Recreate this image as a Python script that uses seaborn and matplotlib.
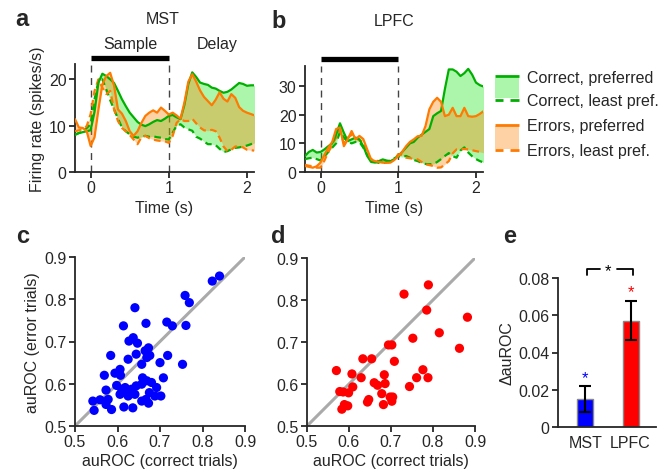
import numpy as np
import pandas as pd
import matplotlib
matplotlib.use("Agg")
import matplotlib.pyplot as plt
import seaborn as sns

# ---- data ----
t = np.round(np.arange(-0.2, 2.1001, 0.05), 2)

mst_cor_pref = [8.1, 8.4, 8.6, 8.8, 9.0, 13.0, 19.3, 21.2, 20.7, 20.0,
                19.2, 17.5, 15.7, 14.2, 12.8, 11.8, 10.8, 10.2, 9.9, 10.3,
                10.8, 11.2, 11.0, 11.5, 12.1, 12.3, 11.8, 11.4, 14.5, 19.0,
                21.5, 20.5, 19.3, 19.0, 18.8, 18.2, 18.0, 17.5, 17.1, 17.3,
                17.8, 18.5, 19.2, 19.0, 18.6, 18.7, 18.7]
mst_cor_least = [8.0, 8.4, 8.8, 9.5, 10.3, 15.7, 19.6, 20.0, 17.8, 15.5,
                 13.5, 11.5, 9.6, 8.8, 8.1, 7.6, 7.4, 7.6, 7.8, 7.6,
                 7.7, 7.5, 7.4, 7.1, 7.0, 8.5, 10.0, 10.3, 9.6, 9.2,
                 8.9, 7.6, 7.2, 6.6, 6.0, 6.0, 5.8, 5.0, 4.3, 4.5,
                 4.9, 5.2, 5.3, 5.5, 5.7, 6.0, 6.3]
mst_err_pref = [11.4, 9.6, 9.5, 8.8, 5.6, 7.5, 13.5, 18.9, 20.7, 21.4,
                18.6, 13.5, 12.6, 11.0, 8.8, 7.8, 8.8, 10.6, 12.1, 12.8,
                13.3, 12.8, 13.9, 13.2, 12.4, 12.8, 12.2, 11.5, 15.0, 19.5,
                21.1, 19.5, 17.6, 16.2, 15.3, 14.4, 15.6, 17.2, 15.8, 15.2,
                16.8, 16.0, 14.0, 13.2, 12.8, 12.5, 12.2]
mst_err_least = [8.8, 9.0, 9.3, 9.9, 12.5, 17.5, 20.0, 18.2, 16.8, 17.5,
                 13.5, 11.0, 9.5, 8.8, 8.0, 7.0, 6.0, 7.5, 7.8, 7.3,
                 7.0, 6.8, 6.7, 6.6, 6.3, 7.8, 10.6, 11.4, 11.0, 11.0,
                 11.5, 10.5, 9.6, 9.0, 8.9, 9.1, 8.8, 7.4, 5.5, 4.5,
                 4.8, 5.5, 5.5, 5.3, 4.8, 4.7, 4.6]

lpfc_cor_pref = [5.6, 7.0, 7.7, 6.8, 7.0, 7.9, 9.0, 10.0, 13.0, 17.0,
                 13.7, 10.8, 11.4, 12.0, 11.4, 9.0, 5.6, 3.5, 3.3, 3.8,
                 4.4, 4.0, 3.8, 4.5, 5.6, 7.0, 8.5, 10.0, 10.5, 12.0,
                 13.0, 14.0, 15.0, 19.5, 20.5, 21.3, 29.0, 35.8, 35.8, 35.0,
                 33.5, 34.5, 36.0, 34.0, 31.2, 30.3, 29.8]
lpfc_cor_least = [4.5, 4.8, 5.0, 4.5, 4.0, 5.5, 7.0, 8.5, 10.0, 14.0,
                  12.0, 10.5, 10.0, 10.5, 10.5, 8.5, 6.0, 4.5, 3.5, 3.2,
                  3.0, 3.5, 4.0, 4.8, 5.5, 5.2, 5.6, 5.0, 4.2, 3.8,
                  3.2, 2.8, 2.7, 2.8, 3.5, 4.5, 5.6, 6.6, 5.5, 5.0,
                  7.5, 8.6, 6.8, 5.5, 4.5, 3.8, 3.3]
lpfc_err_pref = [2.1, 1.8, 1.5, 2.0, 3.3, 6.0, 8.5, 10.5, 15.0, 15.5,
                 9.0, 11.4, 14.3, 11.4, 12.6, 11.5, 7.9, 4.4, 3.8, 3.5,
                 3.3, 3.2, 3.3, 4.2, 5.6, 7.0, 9.0, 10.5, 11.4, 12.5,
                 12.6, 16.0, 21.9, 24.5, 25.9, 24.5, 19.5, 20.0, 22.4, 19.5,
                 19.5, 22.4, 19.5, 19.3, 19.5, 20.3, 21.3]
lpfc_err_least = [2.5, 2.2, 2.0, 1.5, 1.5, 4.0, 7.0, 9.5, 12.0, 14.5,
                  10.0, 12.0, 13.0, 12.0, 11.0, 10.5, 6.0, 4.5, 4.0, 3.8,
                  3.5, 3.3, 3.5, 4.5, 6.2, 6.0, 5.0, 4.8, 4.6, 4.4,
                  3.5, 2.7, 2.4, 2.1, 1.5, 1.6, 2.7, 3.8, 6.5, 7.9,
                  8.0, 8.0, 7.9, 7.6, 7.3, 7.0, 6.7]

mst_x = [0.542, 0.545, 0.559, 0.573, 0.578, 0.586, 0.573, 0.569, 0.584, 0.594,
         0.598, 0.606, 0.607, 0.610, 0.614, 0.606, 0.618, 0.615, 0.622, 0.625,
         0.625, 0.627, 0.636, 0.637, 0.641, 0.641, 0.644, 0.647, 0.644, 0.657,
         0.657, 0.657, 0.659, 0.665, 0.667, 0.669, 0.673, 0.675, 0.673, 0.676,
         0.667, 0.680, 0.692, 0.700, 0.688, 0.702, 0.708, 0.718, 0.716, 0.729,
         0.753, 0.761, 0.759, 0.769, 0.823, 0.840, 0.669, 0.633]
mst_y = [0.559, 0.537, 0.562, 0.551, 0.563, 0.539, 0.585, 0.620, 0.667, 0.625,
         0.596, 0.634, 0.620, 0.587, 0.737, 0.575, 0.591, 0.545, 0.579, 0.571,
         0.658, 0.701, 0.543, 0.709, 0.780, 0.575, 0.670, 0.696, 0.595, 0.599,
         0.646, 0.559, 0.614, 0.678, 0.743, 0.662, 0.685, 0.579, 0.554, 0.667,
         0.563, 0.603, 0.591, 0.650, 0.571, 0.571, 0.614, 0.667, 0.746, 0.737,
         0.646, 0.738, 0.809, 0.792, 0.843, 0.855, 0.607, 0.587]

lpfc_x = [0.570, 0.578, 0.586, 0.583, 0.589, 0.597, 0.599, 0.607, 0.609, 0.629,
          0.633, 0.644, 0.647, 0.654, 0.660, 0.668, 0.678, 0.682, 0.684, 0.686,
          0.694, 0.702, 0.698, 0.702, 0.704, 0.708, 0.731, 0.744, 0.752, 0.761,
          0.776, 0.785, 0.788, 0.789, 0.815, 0.863, 0.882]
lpfc_y = [0.632, 0.582, 0.581, 0.540, 0.551, 0.548, 0.579, 0.624, 0.593, 0.615,
          0.660, 0.557, 0.563, 0.660, 0.603, 0.597, 0.577, 0.551, 0.622, 0.601,
          0.693, 0.693, 0.569, 0.559, 0.569, 0.654, 0.814, 0.594, 0.709, 0.615,
          0.634, 0.776, 0.615, 0.836, 0.722, 0.685, 0.759]

areas = ["MST", "LPFC"]
delta_auroc = [0.015, 0.057]
delta_sem = [0.007, 0.0105]

# ---- style ----
sns.set_style("ticks")
plt.rcParams['font.family'] = ['Liberation Sans', 'DejaVu Sans']
plt.rcParams['font.size'] = 11.5
plt.rcParams['axes.linewidth'] = 1.3
plt.rcParams['xtick.major.width'] = 1.3
plt.rcParams['ytick.major.width'] = 1.3
plt.rcParams['xtick.major.size'] = 4
plt.rcParams['ytick.major.size'] = 4
plt.rcParams['xtick.major.pad'] = 2
plt.rcParams['ytick.major.pad'] = 2
plt.rcParams['axes.labelpad'] = 3

GREEN = '#00b000'
ORANGE = '#ff7a00'
GFILL = '#00e600'
OFILL = '#ff7f00'

fig = plt.figure(figsize=(6.71, 4.77), dpi=100)
W, H = 671, 477


def px_axes(l, t_, r, b):
    return fig.add_axes([l / W, 1 - b / H, (r - l) / W, (b - t_) / H])


ax_a = px_axes(75, 65, 254, 173)
ax_b = px_axes(305, 67, 483, 173)
ax_c = px_axes(75, 258, 245, 427)
ax_d = px_axes(307, 259, 475, 427)
ax_e = px_axes(558, 279, 656, 428)


def traces(ax, cp, cl, ep, el, ytop, bar_y):
    ax.fill_between(t, cp, cl, color=GFILL, alpha=0.33, lw=0, zorder=1)
    ax.fill_between(t, ep, el, color=OFILL, alpha=0.35, lw=0, zorder=1)
    for v in (0, 1):
        ax.axvline(v, color='#444444', lw=1.0, ls=(0, (5, 4)), zorder=0)
    sns.lineplot(x=t, y=cl, ax=ax, color=GREEN, lw=1.6, ls=(0, (3, 2)), zorder=3)
    sns.lineplot(x=t, y=el, ax=ax, color=ORANGE, lw=1.6, ls=(0, (3, 2)), zorder=3)
    sns.lineplot(x=t, y=cp, ax=ax, color=GREEN, lw=1.6, zorder=4)
    sns.lineplot(x=t, y=ep, ax=ax, color=ORANGE, lw=1.6, zorder=4)
    ax.plot([0, 1], [bar_y, bar_y], color='k', lw=3.8, clip_on=False,
            solid_capstyle='butt')
    ax.set_xlim(-0.2, 2.09)
    ax.set_ylim(0, ytop)
    ax.set_xticks([0, 1, 2])
    ax.set_xlabel("Time (s)")
    sns.despine(ax=ax)


traces(ax_a, mst_cor_pref, mst_cor_least, mst_err_pref, mst_err_least, 23.3, 24.6)
ax_a.set_yticks([0, 10, 20])
ax_a.set_ylabel("Firing rate (spikes/s)")

traces(ax_b, lpfc_cor_pref, lpfc_cor_least, lpfc_err_pref, lpfc_err_least, 37, 39.3)
ax_b.set_yticks([0, 10, 20, 30])

# scatter panels
for ax, xs, ys, col in [(ax_c, mst_x, mst_y, '#0000ff'), (ax_d, lpfc_x, lpfc_y, '#ff0000')]:
    ax.plot([0.5, 0.9], [0.5, 0.9], color='#aaaaaa', lw=2.2, zorder=0)
    sns.scatterplot(x=xs, y=ys, ax=ax, color=col, s=44, edgecolor='none', zorder=3)
    ax.set_xlim(0.5, 0.9)
    ax.set_ylim(0.5, 0.9)
    ticks = [0.5, 0.6, 0.7, 0.8, 0.9]
    ax.set_xticks(ticks)
    ax.set_yticks(ticks)
    ax.set_xticklabels(["0.5", "0.6", "0.7", "0.8", "0.9"])
    ax.set_yticklabels(["0.5", "0.6", "0.7", "0.8", "0.9"])
    ax.set_xlabel("auROC (correct trials)")
    sns.despine(ax=ax)
ax_c.set_ylabel("auROC (error trials)")

# bar panel
df_e = pd.DataFrame({"area": areas, "delta": delta_auroc})
sns.barplot(data=df_e, x="area", y="delta", hue="area", palette=['#0000ff', '#ff0000'],
            legend=False, width=0.35, edgecolor='#888888', linewidth=1.0,
            saturation=1, errorbar=None, ax=ax_e)
ax_e.errorbar([0, 1], delta_auroc, yerr=delta_sem, fmt='none', ecolor='k',
              elinewidth=1.5, capsize=4, capthick=1.5, zorder=5)
ax_e.set_xlim(-0.6, 1.56)
ax_e.set_ylim(0, 0.08)
ax_e.set_yticks([0, 0.02, 0.04, 0.06, 0.08])
ax_e.set_yticklabels(["0", "0.02", "0.04", "0.06", "0.08"])
ax_e.set_xlabel("")
ax_e.set_ylabel("ΔauROC")
ax_e.tick_params(axis='x', length=0, pad=6)
sns.despine(ax=ax_e)
ax_e.text(0, 0.0265, "*", color='#0000ff', ha='center', va='center', fontsize=12)
ax_e.text(1, 0.0725, "*", color='#ff0000', ha='center', va='center', fontsize=12)
ax_e.text(0.51, 0.0838, "*", color='k', ha='center', va='center', fontsize=12)
ax_e.plot([0.03, 0.03, 0.33], [0.0814, 0.0846, 0.0846], color='k', lw=1.3, clip_on=False)
ax_e.plot([0.70, 1.05, 1.05], [0.0846, 0.0846, 0.0814], color='k', lw=1.3, clip_on=False)

# overlay for letters, titles and the legend (pixel coordinates)
ov = fig.add_axes([0, 0, 1, 1], zorder=-1)
ov.set_xlim(0, W)
ov.set_ylim(H, 0)
ov.axis('off')

for letter, x, y in [("a", 22, 20), ("b", 279, 21), ("c", 23, 237), ("d", 278, 237), ("e", 510, 237)]:
    ov.text(x, y, letter, fontsize=17, fontweight='bold', ha='center', va='center')

ov.text(163, 20, "MST", ha='center', va='center')
ov.text(130, 45, "Sample", ha='center', va='center')
ov.text(217, 45, "Delay", ha='center', va='center')
ov.text(394, 21, "LPFC", ha='center', va='center')

legend_rows = [
    (GREEN, GFILL, 0.33, 77.3, 100.7, "Correct, preferred", "Correct, least pref."),
    (ORANGE, OFILL, 0.35, 125.7, 151.0, "Errors, preferred", "Errors, least pref."),
]
for col, fcol, alpha, y1, y2, lab1, lab2 in legend_rows:
    ov.add_patch(plt.Rectangle((495, y1 + 1.5), 24, y2 - y1 - 3, color=fcol, alpha=alpha, lw=0))
    ov.plot([495, 519], [y1, y1], color=col, lw=2.0, solid_capstyle='butt')
    ov.plot([495, 503], [y2, y2], color=col, lw=2.0, solid_capstyle='butt')
    ov.plot([510, 519], [y2, y2], color=col, lw=2.0, solid_capstyle='butt')
    ov.text(527, y1 + 1, lab1, ha='left', va='center')
    ov.text(527, y2 + 1, lab2, ha='left', va='center')

fig.savefig("out.png", dpi=100)
